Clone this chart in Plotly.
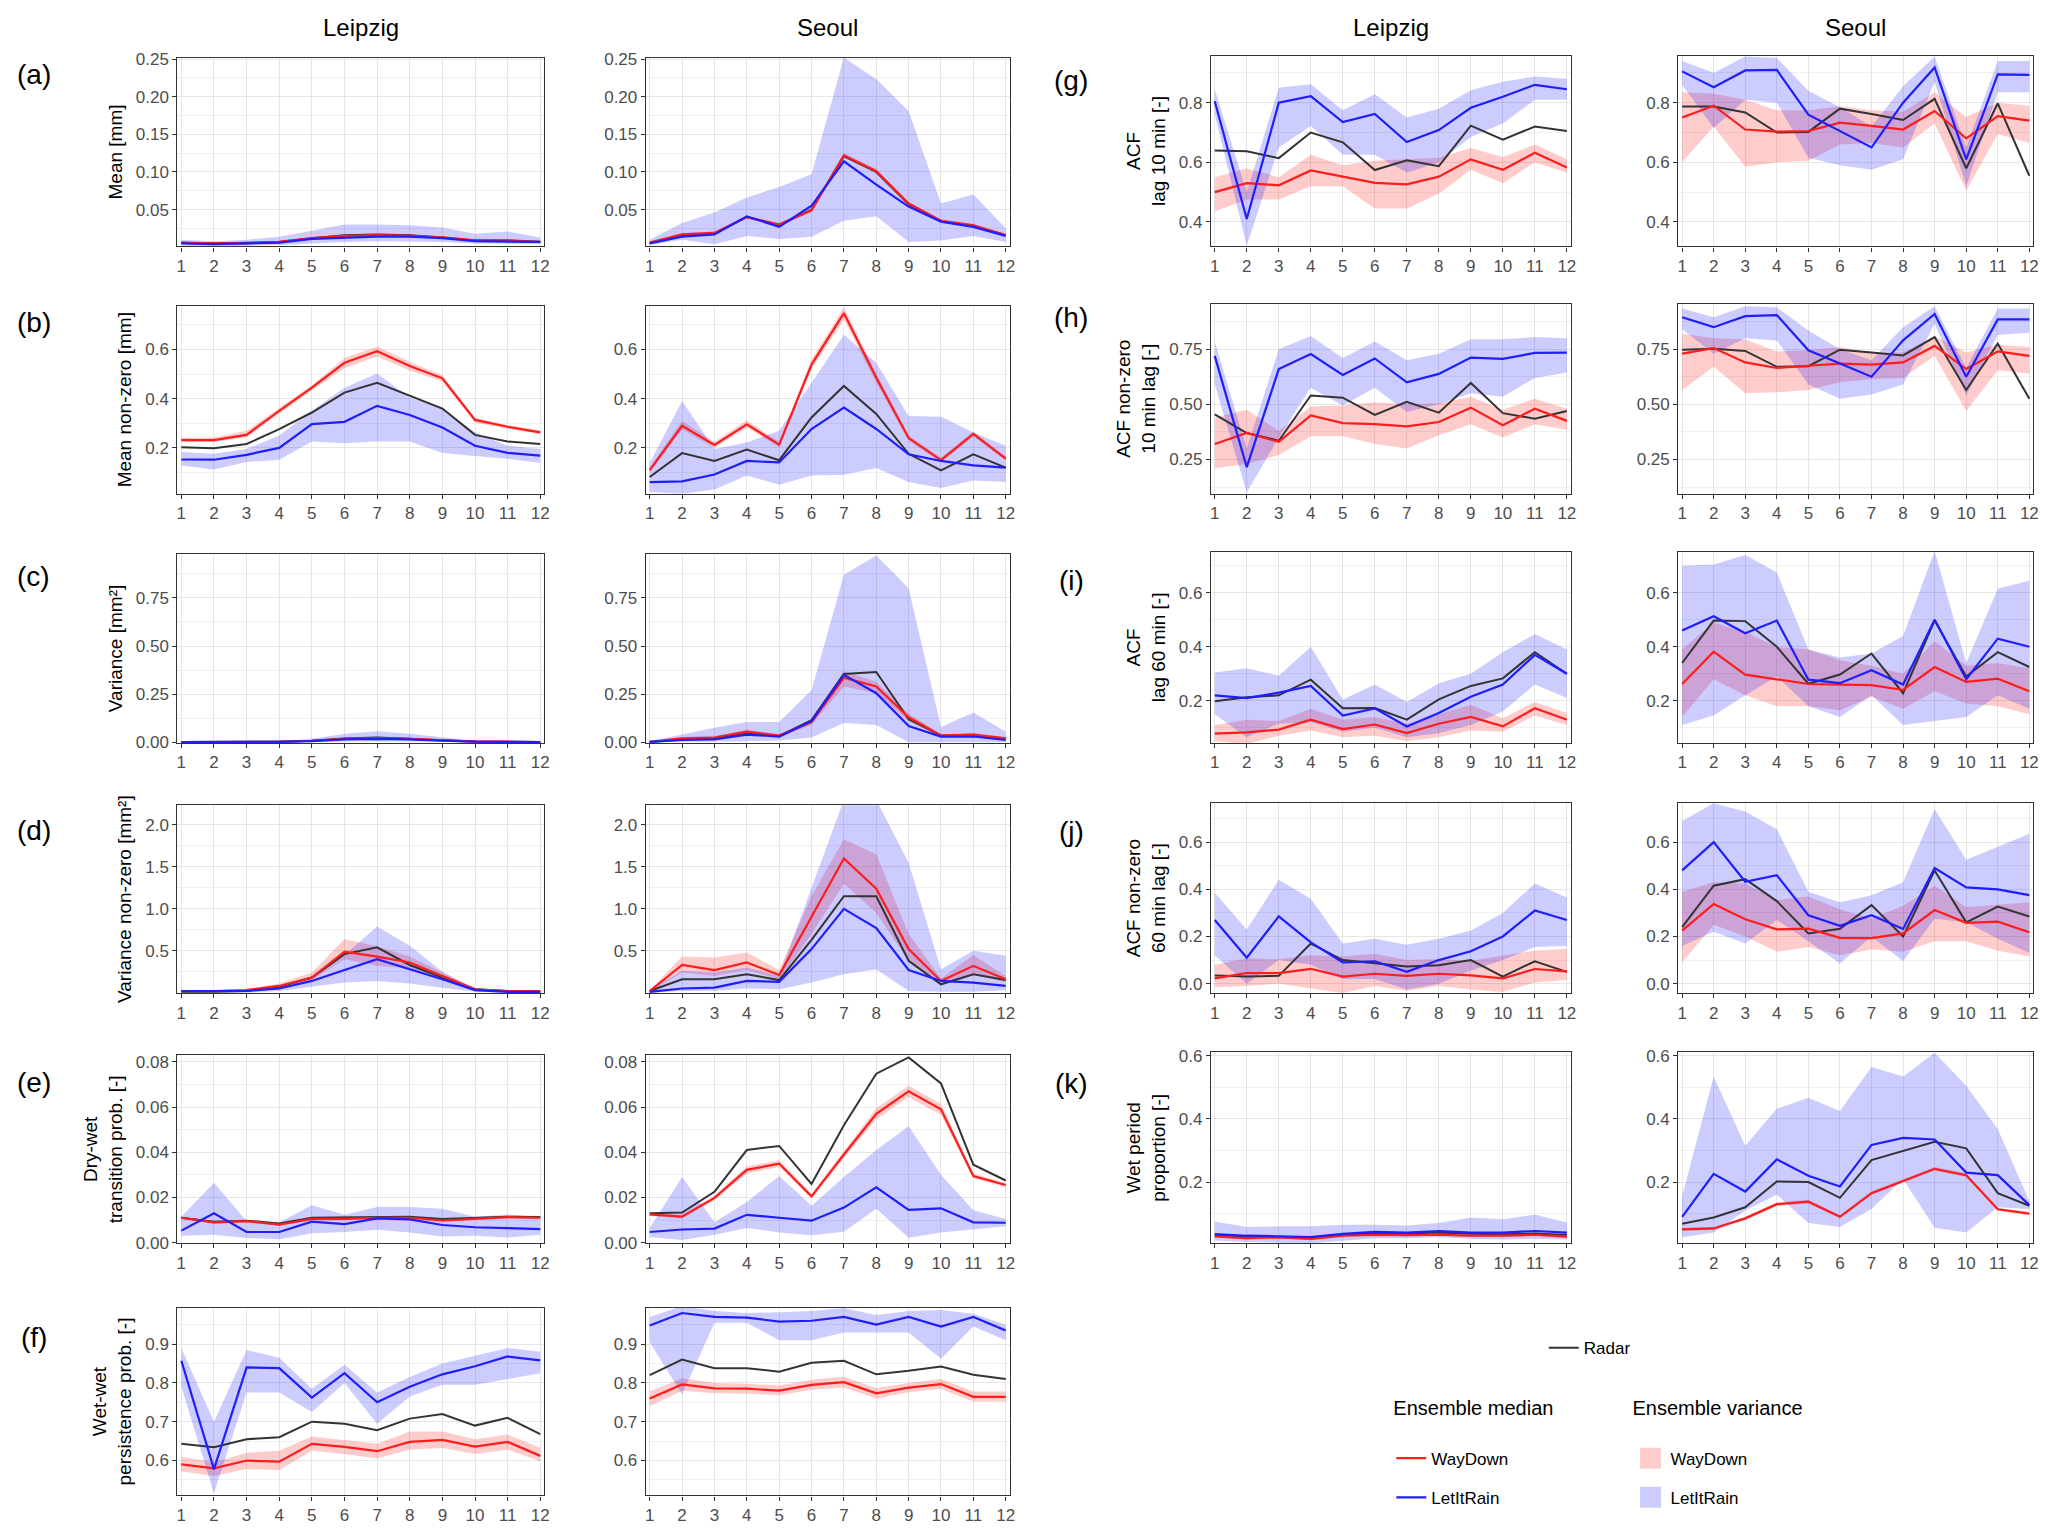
import plotly.graph_objects as go

MONTHS = list(range(1, 13))
MONTH_LABELS = [str(m) for m in MONTHS]

# ---------------- (a) Mean [mm] ----------------
A_L_RADAR = [0.006,0.005,0.006,0.007,0.012,0.016,0.017,0.016,0.013,0.009,0.009,0.007]
A_L_WD = [0.006,0.005,0.005,0.007,0.012,0.015,0.016,0.015,0.013,0.009,0.009,0.007]
A_L_WD_LO = [0.005,0.004,0.004,0.006,0.011,0.014,0.015,0.014,0.012,0.008,0.008,0.006]
A_L_WD_HI = [0.007,0.006,0.006,0.008,0.013,0.017,0.018,0.017,0.014,0.010,0.010,0.008]
A_L_LIR = [0.005,0.004,0.005,0.006,0.011,0.013,0.014,0.014,0.012,0.008,0.008,0.007]
A_L_LIR_LO = [0.002,0.001,0.002,0.003,0.005,0.007,0.008,0.008,0.007,0.005,0.005,0.004]
A_L_LIR_HI = [0.010,0.008,0.010,0.014,0.022,0.030,0.030,0.029,0.026,0.018,0.021,0.013]

A_S_RADAR = [0.006,0.016,0.018,0.040,0.029,0.050,0.121,0.100,0.057,0.034,0.028,0.016]
A_S_WD = [0.006,0.017,0.019,0.040,0.030,0.049,0.122,0.101,0.058,0.035,0.029,0.016]
A_S_WD_LO = [0.005,0.015,0.017,0.038,0.028,0.047,0.119,0.098,0.056,0.033,0.027,0.015]
A_S_WD_HI = [0.007,0.019,0.021,0.042,0.032,0.051,0.125,0.104,0.060,0.037,0.031,0.017]
A_S_LIR = [0.005,0.014,0.017,0.041,0.027,0.055,0.114,0.083,0.054,0.034,0.027,0.015]
A_S_LIR_LO = [0.003,0.010,0.004,0.015,0.011,0.014,0.035,0.041,0.007,0.009,0.015,0.007]
A_S_LIR_HI = [0.010,0.032,0.046,0.066,0.080,0.097,0.252,0.223,0.181,0.058,0.070,0.025]

# ---------------- (b) Mean non-zero [mm] ----------------
B_L_RADAR = [0.203,0.199,0.216,0.276,0.344,0.425,0.465,0.411,0.360,0.253,0.226,0.216]
B_L_WD = [0.232,0.232,0.253,0.351,0.445,0.546,0.593,0.533,0.483,0.314,0.286,0.263]
B_L_WD_LO = [0.224,0.224,0.243,0.340,0.433,0.524,0.572,0.515,0.470,0.302,0.278,0.256]
B_L_WD_HI = [0.242,0.242,0.270,0.362,0.455,0.566,0.612,0.550,0.495,0.322,0.292,0.272]
B_L_LIR = [0.153,0.152,0.172,0.200,0.297,0.306,0.371,0.334,0.283,0.209,0.180,0.169]
B_L_LIR_LO = [0.129,0.112,0.143,0.152,0.226,0.219,0.226,0.226,0.179,0.167,0.156,0.139]
B_L_LIR_HI = [0.183,0.176,0.196,0.250,0.351,0.445,0.503,0.404,0.364,0.263,0.209,0.196]

B_S_RADAR = [0.082,0.179,0.147,0.193,0.150,0.324,0.452,0.338,0.176,0.109,0.174,0.120]
B_S_WD = [0.110,0.290,0.212,0.296,0.213,0.539,0.748,0.485,0.240,0.150,0.257,0.156]
B_S_WD_LO = [0.100,0.275,0.200,0.282,0.203,0.520,0.722,0.465,0.228,0.142,0.245,0.148]
B_S_WD_HI = [0.120,0.310,0.225,0.312,0.225,0.560,0.772,0.505,0.252,0.160,0.268,0.165]
B_S_LIR = [0.061,0.064,0.092,0.147,0.141,0.277,0.364,0.277,0.174,0.147,0.129,0.120]
B_S_LIR_LO = [0.021,0.014,0.031,0.088,0.050,0.088,0.091,0.118,0.061,0.037,0.068,0.061]
B_S_LIR_HI = [0.140,0.391,0.196,0.222,0.270,0.465,0.660,0.546,0.330,0.327,0.263,0.209]

# ---------------- (c) Variance [mm2] ----------------
C_L_RADAR = [0.001,0.001,0.001,0.003,0.008,0.020,0.025,0.018,0.010,0.004,0.003,0.001]
C_L_WD = [0.001,0.001,0.001,0.003,0.008,0.018,0.022,0.018,0.010,0.004,0.003,0.001]
C_L_WD_LO = [0.000,0.000,0.000,0.001,0.005,0.013,0.016,0.013,0.007,0.002,0.001,0.000]
C_L_WD_HI = [0.002,0.002,0.002,0.006,0.012,0.024,0.029,0.024,0.014,0.007,0.006,0.003]
C_L_LIR = [0.001,0.001,0.001,0.002,0.006,0.015,0.018,0.015,0.008,0.003,0.002,0.001]
C_L_LIR_LO = [0.000,0.000,0.000,0.000,0.001,0.004,0.005,0.004,0.002,0.000,0.000,0.000]
C_L_LIR_HI = [0.002,0.002,0.002,0.006,0.018,0.045,0.058,0.045,0.025,0.008,0.006,0.003]

C_S_RADAR = [0.002,0.015,0.020,0.050,0.032,0.115,0.355,0.365,0.120,0.035,0.035,0.020]
C_S_WD = [0.003,0.020,0.025,0.055,0.035,0.105,0.335,0.290,0.130,0.035,0.040,0.020]
C_S_WD_LO = [0.001,0.012,0.017,0.045,0.028,0.090,0.290,0.255,0.110,0.028,0.032,0.013]
C_S_WD_HI = [0.005,0.028,0.033,0.065,0.042,0.120,0.370,0.315,0.150,0.042,0.048,0.027]
C_S_LIR = [0.002,0.012,0.015,0.040,0.030,0.110,0.350,0.255,0.085,0.030,0.030,0.012]
C_S_LIR_LO = [0.000,0.003,0.003,0.005,0.010,0.025,0.100,0.090,0.000,0.000,0.000,0.000]
C_S_LIR_HI = [0.005,0.040,0.075,0.105,0.105,0.270,0.870,0.970,0.800,0.080,0.155,0.055]

# ---------------- (d) Variance non-zero [mm2] ----------------
D_L_RADAR = [0.01,0.01,0.02,0.07,0.18,0.46,0.54,0.33,0.18,0.04,0.02,0.01]
D_L_WD = [0.02,0.02,0.03,0.08,0.18,0.49,0.43,0.36,0.20,0.04,0.02,0.02]
D_L_WD_LO = [0.01,0.01,0.02,0.06,0.15,0.40,0.32,0.29,0.16,0.03,0.01,0.01]
D_L_WD_HI = [0.03,0.03,0.04,0.11,0.24,0.64,0.55,0.43,0.24,0.05,0.03,0.03]
D_L_LIR = [0.02,0.02,0.02,0.05,0.14,0.27,0.40,0.28,0.16,0.03,0.01,0.01]
D_L_LIR_LO = [0.00,0.00,0.00,0.02,0.07,0.12,0.14,0.11,0.06,0.01,0.00,0.00]
D_L_LIR_HI = [0.03,0.03,0.03,0.07,0.18,0.45,0.79,0.56,0.25,0.05,0.03,0.02]

D_S_RADAR = [0.02,0.16,0.16,0.22,0.15,0.63,1.15,1.15,0.38,0.10,0.22,0.15]
D_S_WD = [0.02,0.33,0.27,0.36,0.21,0.90,1.60,1.24,0.52,0.14,0.32,0.16]
D_S_WD_LO = [0.01,0.24,0.20,0.27,0.16,0.70,1.30,0.95,0.38,0.11,0.22,0.12]
D_S_WD_HI = [0.03,0.43,0.42,0.48,0.27,1.15,1.83,1.65,0.70,0.17,0.45,0.20]
D_S_LIR = [0.01,0.05,0.06,0.14,0.13,0.52,1.00,0.77,0.27,0.14,0.12,0.08]
D_S_LIR_LO = [0.00,0.02,0.02,0.05,0.04,0.12,0.22,0.28,0.02,0.01,0.01,0.03]
D_S_LIR_HI = [0.03,0.26,0.24,0.30,0.20,1.25,2.30,2.30,1.55,0.28,0.50,0.44]

# ---------------- (e) Dry-wet transition prob. ----------------
E_L_RADAR = [0.0110,0.0092,0.0097,0.0085,0.0110,0.0112,0.0115,0.0115,0.0105,0.0110,0.0115,0.0113]
E_L_WD = [0.0110,0.0090,0.0095,0.0080,0.0105,0.0105,0.0110,0.0110,0.0098,0.0105,0.0113,0.0110]
E_L_WD_LO = [0.0104,0.0084,0.0089,0.0075,0.0099,0.0099,0.0104,0.0104,0.0092,0.0099,0.0107,0.0104]
E_L_WD_HI = [0.0116,0.0096,0.0101,0.0086,0.0111,0.0111,0.0116,0.0116,0.0104,0.0111,0.0119,0.0116]
E_L_LIR = [0.0053,0.0130,0.0047,0.0047,0.0093,0.0082,0.0107,0.0103,0.0078,0.0068,0.0064,0.0060]
E_L_LIR_LO = [0.0030,0.0035,0.0020,0.0015,0.0042,0.0047,0.0057,0.0045,0.0027,0.0030,0.0023,0.0035]
E_L_LIR_HI = [0.0115,0.0265,0.0095,0.0090,0.0165,0.0123,0.0158,0.0158,0.0150,0.0115,0.0125,0.0115]

E_S_RADAR = [0.0130,0.0133,0.0225,0.0410,0.0428,0.0260,0.0520,0.0748,0.0820,0.0705,0.0345,0.0275]
E_S_WD = [0.0125,0.0115,0.0198,0.0322,0.0350,0.0205,0.0390,0.0570,0.0670,0.0590,0.0295,0.0255]
E_S_WD_LO = [0.0118,0.0107,0.0188,0.0306,0.0335,0.0195,0.0375,0.0545,0.0645,0.0565,0.0285,0.0245]
E_S_WD_HI = [0.0132,0.0123,0.0208,0.0338,0.0365,0.0215,0.0405,0.0595,0.0695,0.0615,0.0305,0.0265]
E_S_LIR = [0.0047,0.0058,0.0062,0.0123,0.0110,0.0097,0.0155,0.0245,0.0145,0.0152,0.0090,0.0088]
E_S_LIR_LO = [0.0025,0.0012,0.0035,0.0065,0.0045,0.0033,0.0048,0.0150,0.0022,0.0045,0.0058,0.0072]
E_S_LIR_HI = [0.0065,0.0290,0.0090,0.0180,0.0295,0.0163,0.0290,0.0410,0.0515,0.0300,0.0143,0.0105]

# ---------------- (f) Wet-wet persistence prob. ----------------
F_L_RADAR = [0.643,0.634,0.655,0.660,0.700,0.695,0.678,0.708,0.720,0.690,0.710,0.668]
F_L_WD = [0.590,0.580,0.600,0.597,0.643,0.635,0.624,0.648,0.653,0.636,0.648,0.612]
F_L_WD_LO = [0.572,0.560,0.578,0.575,0.625,0.617,0.605,0.628,0.632,0.617,0.628,0.598]
F_L_WD_HI = [0.610,0.595,0.620,0.625,0.662,0.652,0.643,0.675,0.675,0.655,0.667,0.633]
F_L_LIR = [0.857,0.578,0.840,0.838,0.762,0.825,0.750,0.790,0.822,0.843,0.868,0.858]
F_L_LIR_LO = [0.790,0.515,0.775,0.775,0.725,0.800,0.695,0.765,0.795,0.795,0.810,0.825]
F_L_LIR_HI = [0.890,0.700,0.885,0.865,0.785,0.847,0.775,0.815,0.850,0.870,0.890,0.880]

F_S_RADAR = [0.820,0.860,0.838,0.838,0.829,0.852,0.857,0.822,0.831,0.842,0.821,0.810]
F_S_WD = [0.760,0.796,0.786,0.785,0.780,0.795,0.802,0.773,0.788,0.797,0.764,0.764]
F_S_WD_LO = [0.740,0.780,0.773,0.772,0.768,0.782,0.788,0.760,0.776,0.784,0.752,0.752]
F_S_WD_HI = [0.778,0.812,0.800,0.798,0.793,0.808,0.816,0.786,0.800,0.810,0.778,0.778]
F_S_LIR = [0.948,0.980,0.970,0.968,0.958,0.960,0.970,0.950,0.970,0.945,0.970,0.935]
F_S_LIR_LO = [0.905,0.770,0.955,0.955,0.910,0.910,0.930,0.930,0.930,0.862,0.945,0.910]
F_S_LIR_HI = [0.970,0.998,0.985,0.980,0.982,0.985,0.993,0.975,0.985,0.988,0.978,0.950]

# ---------------- (g) ACF lag 10 min ----------------
G_L_RADAR = [0.640,0.637,0.614,0.700,0.667,0.574,0.607,0.587,0.723,0.676,0.720,0.705]
G_L_WD = [0.500,0.530,0.523,0.573,0.552,0.531,0.526,0.552,0.610,0.575,0.632,0.583]
G_L_WD_LO = [0.435,0.475,0.475,0.520,0.520,0.445,0.445,0.495,0.575,0.530,0.600,0.565]
G_L_WD_HI = [0.550,0.580,0.550,0.625,0.590,0.605,0.610,0.615,0.648,0.618,0.660,0.610]
G_L_LIR = [0.805,0.410,0.800,0.822,0.735,0.762,0.668,0.708,0.783,0.820,0.860,0.845]
G_L_LIR_LO = [0.760,0.320,0.650,0.722,0.625,0.625,0.565,0.600,0.685,0.730,0.810,0.810]
G_L_LIR_HI = [0.845,0.500,0.850,0.862,0.775,0.828,0.750,0.780,0.842,0.870,0.888,0.880]

G_S_RADAR = [0.787,0.787,0.767,0.700,0.702,0.780,0.762,0.742,0.813,0.580,0.798,0.555]
G_S_WD = [0.750,0.790,0.710,0.703,0.705,0.733,0.722,0.710,0.772,0.680,0.755,0.740]
G_S_WD_LO = [0.600,0.720,0.585,0.600,0.605,0.660,0.665,0.650,0.730,0.505,0.695,0.665]
G_S_WD_HI = [0.835,0.830,0.810,0.775,0.775,0.788,0.775,0.770,0.835,0.752,0.800,0.790]
G_S_LIR = [0.905,0.852,0.908,0.910,0.760,0.705,0.650,0.800,0.918,0.610,0.895,0.893]
G_S_LIR_LO = [0.860,0.715,0.810,0.800,0.615,0.590,0.575,0.610,0.870,0.520,0.835,0.835]
G_S_LIR_HI = [0.940,0.900,0.955,0.950,0.840,0.785,0.720,0.855,0.955,0.650,0.940,0.940]

# ---------------- (h) ACF non-zero 10 min lag ----------------
H_L_RADAR = [0.455,0.370,0.335,0.540,0.530,0.452,0.512,0.462,0.597,0.460,0.435,0.470]
H_L_WD = [0.320,0.370,0.330,0.450,0.415,0.410,0.400,0.420,0.485,0.405,0.480,0.425]
H_L_WD_LO = [0.210,0.230,0.270,0.355,0.355,0.320,0.300,0.360,0.410,0.350,0.410,0.385]
H_L_WD_HI = [0.440,0.475,0.380,0.490,0.495,0.510,0.500,0.505,0.535,0.475,0.525,0.480]
H_L_LIR = [0.720,0.215,0.660,0.728,0.633,0.708,0.600,0.638,0.712,0.706,0.733,0.735]
H_L_LIR_LO = [0.590,0.100,0.350,0.575,0.495,0.575,0.465,0.500,0.550,0.535,0.620,0.645]
H_L_LIR_HI = [0.785,0.300,0.750,0.810,0.710,0.785,0.700,0.730,0.795,0.795,0.805,0.800]

H_S_RADAR = [0.748,0.752,0.742,0.670,0.673,0.748,0.735,0.722,0.805,0.565,0.775,0.525]
H_S_WD = [0.730,0.755,0.690,0.665,0.675,0.685,0.680,0.690,0.765,0.660,0.740,0.720]
H_S_WD_LO = [0.565,0.670,0.550,0.555,0.565,0.600,0.615,0.620,0.720,0.470,0.655,0.640]
H_S_WD_HI = [0.820,0.800,0.795,0.740,0.745,0.760,0.735,0.735,0.810,0.735,0.770,0.760]
H_S_LIR = [0.895,0.850,0.900,0.905,0.745,0.685,0.625,0.790,0.910,0.625,0.885,0.885]
H_S_LIR_LO = [0.840,0.730,0.800,0.790,0.590,0.525,0.545,0.590,0.865,0.540,0.815,0.825]
H_S_LIR_HI = [0.935,0.895,0.945,0.940,0.835,0.750,0.700,0.850,0.945,0.665,0.935,0.935]

# ---------------- (i) ACF lag 60 min ----------------
I_L_RADAR = [0.198,0.213,0.220,0.278,0.172,0.173,0.130,0.205,0.255,0.283,0.380,0.300]
I_L_WD = [0.078,0.083,0.093,0.130,0.095,0.112,0.080,0.115,0.140,0.105,0.172,0.130]
I_L_WD_LO = [0.050,0.040,0.070,0.090,0.065,0.070,0.050,0.065,0.090,0.085,0.145,0.110]
I_L_WD_HI = [0.110,0.130,0.125,0.170,0.130,0.140,0.115,0.150,0.185,0.135,0.195,0.155]
I_L_LIR = [0.220,0.210,0.230,0.255,0.145,0.172,0.105,0.155,0.215,0.260,0.370,0.300]
I_L_LIR_LO = [0.150,0.065,0.115,0.120,0.085,0.100,0.065,0.080,0.110,0.160,0.260,0.210]
I_L_LIR_HI = [0.305,0.320,0.293,0.400,0.205,0.260,0.195,0.265,0.300,0.380,0.447,0.390]

I_S_RADAR = [0.340,0.497,0.495,0.400,0.263,0.297,0.375,0.228,0.498,0.290,0.380,0.325]
I_S_WD = [0.262,0.382,0.297,0.280,0.262,0.260,0.258,0.240,0.325,0.270,0.282,0.235]
I_S_WD_LO = [0.140,0.280,0.220,0.180,0.180,0.165,0.215,0.170,0.235,0.190,0.180,0.150]
I_S_WD_HI = [0.390,0.490,0.455,0.400,0.390,0.350,0.330,0.300,0.420,0.330,0.340,0.320]
I_S_LIR = [0.460,0.513,0.450,0.497,0.278,0.265,0.313,0.260,0.500,0.280,0.430,0.400]
I_S_LIR_LO = [0.110,0.145,0.220,0.290,0.180,0.140,0.220,0.110,0.125,0.140,0.220,0.170]
I_S_LIR_HI = [0.700,0.705,0.740,0.675,0.390,0.360,0.375,0.440,0.755,0.340,0.615,0.645]

# ---------------- (j) ACF non-zero 60 min lag ----------------
J_L_RADAR = [0.035,0.030,0.033,0.170,0.100,0.088,0.073,0.078,0.100,0.030,0.095,0.050]
J_L_WD = [0.022,0.045,0.045,0.063,0.030,0.042,0.033,0.042,0.035,0.022,0.062,0.052]
J_L_WD_LO = [-0.015,-0.010,0.000,-0.020,-0.040,-0.010,-0.030,-0.010,-0.025,-0.035,0.005,0.015]
J_L_WD_HI = [0.080,0.108,0.103,0.120,0.115,0.127,0.100,0.105,0.097,0.120,0.140,0.148]
J_L_LIR = [0.270,0.110,0.285,0.175,0.090,0.095,0.050,0.100,0.137,0.200,0.310,0.270]
J_L_LIR_LO = [0.120,0.000,0.100,0.080,0.020,0.020,-0.025,0.000,0.055,0.100,0.155,0.160]
J_L_LIR_HI = [0.385,0.230,0.440,0.360,0.170,0.190,0.165,0.190,0.225,0.300,0.425,0.365]

J_S_RADAR = [0.240,0.415,0.443,0.350,0.213,0.233,0.333,0.200,0.480,0.260,0.327,0.285]
J_S_WD = [0.225,0.338,0.273,0.230,0.233,0.194,0.193,0.213,0.312,0.258,0.263,0.218]
J_S_WD_LO = [0.090,0.250,0.200,0.135,0.155,0.120,0.145,0.135,0.180,0.180,0.140,0.115]
J_S_WD_HI = [0.390,0.430,0.425,0.355,0.370,0.315,0.275,0.330,0.415,0.325,0.335,0.345]
J_S_LIR = [0.480,0.600,0.432,0.460,0.290,0.245,0.290,0.232,0.490,0.408,0.400,0.375]
J_S_LIR_LO = [0.160,0.220,0.170,0.270,0.180,0.085,0.200,0.095,0.275,0.260,0.190,0.130]
J_S_LIR_HI = [0.690,0.765,0.730,0.655,0.390,0.345,0.375,0.430,0.740,0.525,0.580,0.635]

# ---------------- (k) Wet period proportion ----------------
K_L_RADAR = [0.032,0.027,0.026,0.024,0.034,0.038,0.037,0.040,0.036,0.035,0.037,0.032]
K_L_WD = [0.028,0.022,0.025,0.020,0.030,0.033,0.032,0.033,0.030,0.030,0.033,0.027]
K_L_WD_LO = [0.024,0.018,0.021,0.016,0.026,0.029,0.028,0.029,0.026,0.026,0.029,0.023]
K_L_WD_HI = [0.032,0.026,0.029,0.024,0.034,0.037,0.036,0.037,0.034,0.034,0.037,0.031]
K_L_LIR = [0.035,0.030,0.028,0.026,0.036,0.042,0.040,0.045,0.040,0.040,0.045,0.040]
K_L_LIR_LO = [0.015,0.010,0.008,0.006,0.015,0.022,0.022,0.025,0.020,0.018,0.020,0.018]
K_L_LIR_HI = [0.075,0.058,0.060,0.060,0.065,0.065,0.062,0.070,0.088,0.082,0.097,0.072]

K_S_RADAR = [0.068,0.088,0.120,0.202,0.200,0.150,0.270,0.298,0.328,0.307,0.165,0.125]
K_S_WD = [0.050,0.053,0.085,0.130,0.138,0.090,0.165,0.203,0.242,0.222,0.114,0.100]
K_S_WD_LO = [0.045,0.048,0.080,0.124,0.132,0.085,0.159,0.197,0.236,0.216,0.109,0.095]
K_S_WD_HI = [0.055,0.058,0.090,0.136,0.144,0.095,0.171,0.209,0.248,0.228,0.119,0.105]
K_S_LIR = [0.090,0.226,0.170,0.272,0.220,0.186,0.318,0.340,0.335,0.230,0.222,0.127]
K_S_LIR_LO = [0.025,0.040,0.110,0.160,0.070,0.058,0.115,0.210,0.055,0.040,0.120,0.115]
K_S_LIR_HI = [0.155,0.535,0.315,0.433,0.467,0.425,0.565,0.535,0.610,0.505,0.368,0.140]

# Per-panel axis settings: y title, y range, major ticks, tick labels, minor ticks
PANEL_LETTERS = ["a", "b", "c", "d", "e", "f", "g", "h", "i", "j", "k"]
Y_TITLES = {
    "a": "Mean [mm]",
    "b": "Mean non-zero [mm]",
    "c": "Variance [mm²]",
    "d": "Variance non-zero [mm²]",
    "e": "Dry-wet<br>transition prob. [-]",
    "f": "Wet-wet<br>persistence prob. [-]",
    "g": "ACF<br>lag 10 min [-]",
    "h": "ACF non-zero<br>10 min lag [-]",
    "i": "ACF<br>lag 60 min [-]",
    "j": "ACF non-zero<br>60 min lag [-]",
    "k": "Wet period<br>proportion [-]",
}
Y_RANGES = {
    "a": [0.001, 0.252], "b": [0.014, 0.778], "c": [-0.003, 0.978],
    "d": [-0.005, 2.236], "e": [-0.0003, 0.0829], "f": [0.510, 0.994],
    "g": [0.318, 0.958], "h": [0.095, 0.956], "i": [0.044, 0.751],
    "j": [-0.040, 0.765], "k": [0.006, 0.611],
}
Y_TICKS = {
    "a": [0.05, 0.10, 0.15, 0.20, 0.25], "b": [0.2, 0.4, 0.6],
    "c": [0.0, 0.25, 0.50, 0.75], "d": [0.5, 1.0, 1.5, 2.0],
    "e": [0.00, 0.02, 0.04, 0.06, 0.08], "f": [0.6, 0.7, 0.8, 0.9],
    "g": [0.4, 0.6, 0.8], "h": [0.25, 0.50, 0.75], "i": [0.2, 0.4, 0.6],
    "j": [0.0, 0.2, 0.4, 0.6], "k": [0.2, 0.4, 0.6],
}
Y_TICKTEXT = {
    "a": ["0.05", "0.10", "0.15", "0.20", "0.25"], "b": ["0.2", "0.4", "0.6"],
    "c": ["0.00", "0.25", "0.50", "0.75"], "d": ["0.5", "1.0", "1.5", "2.0"],
    "e": ["0.00", "0.02", "0.04", "0.06", "0.08"], "f": ["0.6", "0.7", "0.8", "0.9"],
    "g": ["0.4", "0.6", "0.8"], "h": ["0.25", "0.50", "0.75"], "i": ["0.2", "0.4", "0.6"],
    "j": ["0.0", "0.2", "0.4", "0.6"], "k": ["0.2", "0.4", "0.6"],
}
Y_MINOR = {
    "a": [0.025, 0.075, 0.125, 0.175, 0.225], "b": [0.1, 0.3, 0.5, 0.7],
    "c": [0.125, 0.375, 0.625, 0.875], "d": [0.25, 0.75, 1.25, 1.75, 2.25],
    "e": [0.01, 0.03, 0.05, 0.07], "f": [0.55, 0.65, 0.75, 0.85, 0.95],
    "g": [0.3, 0.5, 0.7, 0.9], "h": [0.125, 0.375, 0.625, 0.875],
    "i": [0.1, 0.3, 0.5, 0.7], "j": [0.1, 0.3, 0.5, 0.7], "k": [0.1, 0.3, 0.5],
}

# ---------------- layout geometry (pixels; page body adds an 8px offset) ----------------
W, H = 2067, 1539
BLOCK_COLS = {0: ((169, 537), (639, 1004)), 1: ((1206, 1567), (1675, 2031))}
ROW_PX = {
    "a": (42, 233), "b": (293, 483), "c": (544, 735), "d": (798, 988),
    "e": (1051, 1241), "f": (1306, 1496),
    "g": (40, 233), "h": (291, 483), "i": (542, 735), "j": (796, 988), "k": (1048, 1241),
}
BLOCK = {l: (0 if l in "abcdef" else 1) for l in PANEL_LETTERS}

SANS = "Liberation Sans, Arial, sans-serif"
RED = "#FF1C1C"
BLUE = "#1E1EFF"
RADAR_C = "#333333"
RED_FILL = "rgba(255,0,0,0.2)"
BLUE_FILL = "rgba(0,0,255,0.2)"
RED_KEY = "#FFCCCC"
BLUE_KEY = "#CCCCFF"

G = globals()


def series(letter, city, kind):
    return G[f"{letter.upper()}_{city}_{kind}"]


fig = go.Figure()
layout = {}
n = 0
for letter in PANEL_LETTERS:
    top, bot = ROW_PX[letter]
    ydom = [1 - bot / H, 1 - top / H]
    for ci, city in enumerate(["L", "S"]):
        n += 1
        x0, x1 = BLOCK_COLS[BLOCK[letter]][ci]
        xdom = [x0 / W, x1 / W]
        xa = "x" if n == 1 else f"x{n}"
        ya = "y" if n == 1 else f"y{n}"
        first = (n == 1)
        rev = MONTHS[::-1]
        # ensemble variance bands
        fig.add_trace(go.Scatter(
            x=MONTHS + rev,
            y=series(letter, city, "WD_HI") + series(letter, city, "WD_LO")[::-1],
            fill="toself", fillcolor=RED_FILL, line=dict(width=0, color="rgba(255,0,0,0)"),
            mode="lines", name="WayDown", showlegend=False, hoverinfo="skip",
            xaxis=xa, yaxis=ya))
        fig.add_trace(go.Scatter(
            x=MONTHS + rev,
            y=series(letter, city, "LIR_HI") + series(letter, city, "LIR_LO")[::-1],
            fill="toself", fillcolor=BLUE_FILL, line=dict(width=0, color="rgba(0,0,255,0)"),
            mode="lines", name="LetItRain", showlegend=False, hoverinfo="skip",
            xaxis=xa, yaxis=ya))
        # lines
        fig.add_trace(go.Scatter(
            x=MONTHS, y=series(letter, city, "RADAR"), mode="lines",
            line=dict(color=RADAR_C, width=2), name="Radar", legend="legend",
            showlegend=first, xaxis=xa, yaxis=ya))
        fig.add_trace(go.Scatter(
            x=MONTHS, y=series(letter, city, "WD"), mode="lines",
            line=dict(color=RED, width=2.2), name="WayDown", legend="legend2",
            legendgroup="mwd", showlegend=first, xaxis=xa, yaxis=ya))
        fig.add_trace(go.Scatter(
            x=MONTHS, y=series(letter, city, "LIR"), mode="lines",
            line=dict(color=BLUE, width=2.2), name="LetItRain", legend="legend2",
            legendgroup="mlir", showlegend=first, xaxis=xa, yaxis=ya))

        axis_common = dict(
            showline=True, mirror=True, linecolor="#333333", linewidth=1.3,
            ticks="outside", ticklen=4, tickwidth=1.2, tickcolor="#333333",
            tickfont=dict(family=SANS, size=17, color="#4D4D4D"),
            gridcolor="#E6E6E6", gridwidth=1.4, zeroline=False,
        )
        layout["xaxis" if n == 1 else f"xaxis{n}"] = dict(
            axis_common, domain=xdom, anchor=ya, range=[0.88, 12.12],
            tickmode="array", tickvals=MONTHS, ticktext=MONTH_LABELS,
        )
        yax = dict(
            axis_common, domain=ydom, anchor=xa, range=Y_RANGES[letter],
            tickmode="array", tickvals=Y_TICKS[letter], ticktext=Y_TICKTEXT[letter],
            minor=dict(tickmode="array", tickvals=Y_MINOR[letter], showgrid=True,
                       gridcolor="#F0F0F0", gridwidth=0.8, ticks=""),
        )
        if city == "L":
            yax["title"] = dict(text=Y_TITLES[letter], standoff=8,
                                font=dict(family=SANS, size=19, color="black"))
        layout["yaxis" if n == 1 else f"yaxis{n}"] = yax

# legend keys for the ensemble variance (legend-only entries)
fig.add_trace(go.Scatter(
    x=[None], y=[None], mode="markers", name="WayDown", legend="legend3", legendgroup="vwd",
    marker=dict(symbol="square", size=16, color=RED_KEY, line=dict(color=RED_KEY, width=5)),
    showlegend=True, hoverinfo="skip"))
fig.add_trace(go.Scatter(
    x=[None], y=[None], mode="markers", name="LetItRain", legend="legend3", legendgroup="vlir",
    marker=dict(symbol="square", size=16, color=BLUE_KEY, line=dict(color=BLUE_KEY, width=5)),
    showlegend=True, hoverinfo="skip"))

annotations = []
for block in (0, 1):
    for ci, city_name in enumerate(["Leipzig", "Seoul"]):
        x0, x1 = BLOCK_COLS[block][ci]
        annotations.append(dict(
            text=city_name, x=(x0 + x1) / 2 / W, y=1 - 12 / H, xref="paper", yref="paper",
            xanchor="center", yanchor="middle", showarrow=False,
            font=dict(family=SANS, size=24, color="black")))
LETTER_POS = {
    "a": (25, 59), "b": (25, 310), "c": (25, 567), "d": (25, 824),
    "e": (25, 1078), "f": (25, 1336),
    "g": (1066, 65), "h": (1066, 305), "i": (1066, 571), "j": (1066, 825), "k": (1066, 1079),
}
for letter, (px, py) in LETTER_POS.items():
    annotations.append(dict(
        text=f"({letter})", x=px / W, y=1 - py / H, xref="paper", yref="paper",
        xanchor="center", yanchor="middle", showarrow=False,
        font=dict(family=SANS, size=28, color="black")))

fig.update_layout(
    width=W, height=H, margin=dict(l=0, r=0, t=0, b=0),
    paper_bgcolor="white", plot_bgcolor="white",
    annotations=annotations,
    legend=dict(x=1540 / W, y=1 - 1347 / H, xanchor="left", yanchor="middle",
                font=dict(family=SANS, size=17, color="black"),
                bgcolor="rgba(0,0,0,0)"),
    legend2=dict(x=1387 / W, y=1 - 1388 / H, xanchor="left", yanchor="top",
                 title=dict(text="Ensemble median<br> ", font=dict(family=SANS, size=20, color="black")),
                 font=dict(family=SANS, size=17, color="black"), tracegroupgap=14,
                 traceorder="grouped", bgcolor="rgba(0,0,0,0)"),
    legend3=dict(x=1627 / W, y=1 - 1388 / H, xanchor="left", yanchor="top",
                 title=dict(text="Ensemble variance<br> ", font=dict(family=SANS, size=20, color="black")),
                 font=dict(family=SANS, size=17, color="black"), tracegroupgap=14,
                 traceorder="grouped", itemsizing="trace", bgcolor="rgba(0,0,0,0)"),
    showlegend=True,
    **layout,
)

fig.write_html("out.html")
